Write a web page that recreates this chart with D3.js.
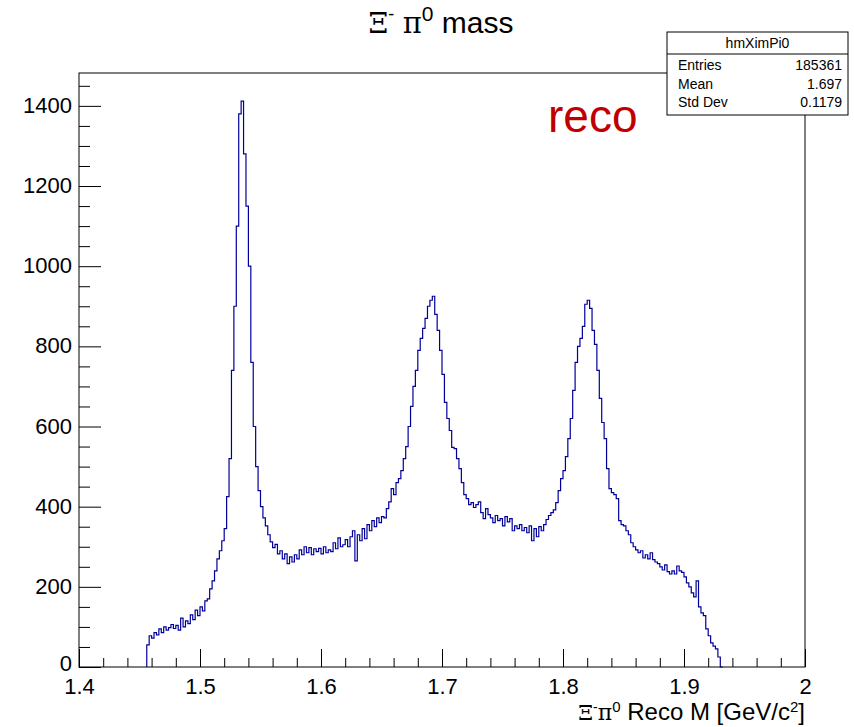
<!DOCTYPE html>
<html>
<head>
<meta charset="utf-8">
<script src="https://cdn.jsdelivr.net/npm/d3@7"></script>
<style>
  body { margin: 0; background: #fff; }
  svg { display: block; font-family: "Liberation Sans", Arial, sans-serif; }
</style>
</head>
<body>
<svg id="chart" width="854" height="727"></svg>
<script>
// histogram binning (GeV/c^2)
const binStart = 1.456;
const binWidth = 0.002;

// bin contents, one per bin starting at binStart
const counts = [
  55, 78, 72, 86, 80, 95, 86, 100, 92, 98,
  106, 96, 104, 92, 122, 100, 115, 108, 130, 118,
  142, 128, 150, 140, 165, 170, 195, 215, 240, 270,
  290, 315, 345, 425, 520, 740, 900, 1100, 1380, 1412,
  1280, 1150, 1000, 760, 600, 500, 440, 400, 372, 352,
  330, 312, 298, 306, 282, 290, 270, 282, 258, 275,
  262, 280, 270, 292, 280, 300, 285, 298, 280, 295,
  288, 296, 282, 300, 285, 292, 288, 310, 295, 322,
  300, 305, 318, 300, 325, 340, 265, 330, 315, 345,
  320, 355, 340, 365, 350, 372, 360, 375, 372, 395,
  412, 445, 430, 460, 470, 490, 520, 550, 600, 650,
  700, 740, 790, 820, 845, 870, 900, 915, 925, 880,
  840, 790, 730, 660, 620, 590, 548, 545, 520, 495,
  460, 430, 420, 405, 410, 398, 405, 412, 385, 370,
  395, 380, 372, 360, 378, 365, 370, 352, 375, 362,
  370, 340, 352, 345, 355, 340, 348, 335, 352, 315,
  345, 325, 350, 340, 355, 368, 378, 385, 392, 410,
  440, 470, 490, 525, 570, 620, 690, 760, 800, 820,
  850, 905, 915, 895, 840, 805, 740, 670, 610, 570,
  495, 445, 435, 430, 420, 365, 355, 352, 340, 330,
  310, 300, 292, 285, 290, 272, 280, 270, 285, 268,
  262, 258, 250, 242, 255, 238, 232, 240, 232, 252,
  240, 236, 225, 210, 200, 185, 175, 215, 150, 135,
  128, 95, 78, 60, 52, 45, 25, 0
];

// axis ticks
const xMajor = [1.4, 1.5, 1.6, 1.7, 1.8, 1.9, 2.0];
const xLabels = ["1.4", "1.5", "1.6", "1.7", "1.8", "1.9", "2"];
const yMajor = [0, 200, 400, 600, 800, 1000, 1200, 1400];

// stats box
const statsName = "hmXimPi0";
const statsRows = [["Entries", "185361"], ["Mean", "1.697"], ["Std Dev", "0.1179"]];

const svg = d3.select("#chart");
const frameL = 79, frameR = 805, frameT = 73, frameB = 667;

const x = d3.scaleLinear().domain([1.4, 2.0]).range([frameL, frameR]);
const y = d3.scaleLinear().domain([0, 1482]).range([frameB, frameT]);

// minor ticks
const xMinor = d3.range(0, 31).map(i => +(1.4 + i * 0.02).toFixed(3)).filter(v => !xMajor.some(m => Math.abs(m - v) < 1e-6));
const yMinor = d3.range(0, 30).map(i => i * 50).filter(v => v % 200 !== 0 && v <= 1482);

// ------- x axis -------
svg.append("g")
  .attr("transform", `translate(0,${frameB})`)
  .call(d3.axisBottom(x).tickValues(xMinor).tickSize(-9).tickFormat(""))
  .call(g => g.select(".domain").remove());

svg.append("g")
  .attr("transform", `translate(0,${frameB})`)
  .call(d3.axisBottom(x).tickValues(xMajor).tickSize(-18).tickPadding(11)
    .tickFormat((d, i) => xLabels[i]))
  .call(g => g.select(".domain").remove())
  .call(g => g.selectAll("text").attr("font-size", 22).attr("fill", "#000")
    .attr("font-family", "Liberation Sans, Arial, sans-serif"));

// ------- y axis -------
svg.append("g")
  .attr("transform", `translate(${frameL},0)`)
  .call(d3.axisLeft(y).tickValues(yMinor).tickSize(-11).tickFormat(""))
  .call(g => g.select(".domain").remove());

svg.append("g")
  .attr("transform", `translate(${frameL},0)`)
  .call(d3.axisLeft(y).tickValues(yMajor).tickSize(-22).tickPadding(7).tickFormat(d3.format("d")))
  .call(g => g.select(".domain").remove())
  .call(g => g.selectAll("text").attr("font-size", 22).attr("fill", "#000")
    .attr("dy", d => d === 0 ? "0.18em" : "0.3em")
    .attr("font-family", "Liberation Sans, Arial, sans-serif"));

svg.selectAll(".tick line").attr("stroke", "#000").attr("stroke-width", 1);

// ------- histogram -------
const pts = counts.map((c, i) => ({ e: binStart + i * binWidth, v: c }));
pts.unshift({ e: binStart, v: 0 });
pts.push({ e: binStart + counts.length * binWidth, v: 0 });

const line = d3.line()
  .x(d => x(d.e))
  .y(d => y(d.v))
  .curve(d3.curveStepAfter);

svg.append("path")
  .datum(pts)
  .attr("d", line)
  .attr("fill", "none")
  .attr("stroke", "#000099")
  .attr("stroke-width", 1.2);

// frame
svg.append("rect")
  .attr("x", frameL).attr("y", frameT)
  .attr("width", frameR - frameL).attr("height", frameB - frameT)
  .attr("fill", "none").attr("stroke", "#000").attr("stroke-width", 1);

// ------- title -------
const title = svg.append("text")
  .attr("x", 441).attr("y", 33)
  .attr("text-anchor", "middle")
  .attr("font-size", 30);
title.append("tspan").attr("font-family", "DejaVu Serif, serif").attr("font-size", 28).text("Ξ");
title.append("tspan").attr("dy", -13).attr("font-size", 18).text("-");
title.append("tspan").attr("dy", 13).text(" ");
title.append("tspan").attr("font-family", "DejaVu Serif, serif").attr("font-size", 29).text("π");
title.append("tspan").attr("dy", -12).attr("font-size", 21).text("0");
title.append("tspan").attr("dy", 12).text(" mass");

// ------- x axis title -------
const xt = svg.append("text")
  .attr("x", frameR).attr("y", 720)
  .attr("text-anchor", "end")
  .attr("font-size", 24);
xt.append("tspan").attr("font-family", "DejaVu Serif, serif").attr("font-size", 21).text("Ξ");
xt.append("tspan").attr("dy", -8).attr("font-size", 14).text("-");
xt.append("tspan").attr("dy", 8).attr("font-family", "DejaVu Serif, serif").attr("font-size", 22).text("π");
xt.append("tspan").attr("dy", -8).attr("font-size", 15).text("0");
xt.append("tspan").attr("dy", 8).text(" Reco M [GeV/c");
xt.append("tspan").attr("dy", -8).attr("font-size", 15).text("2");
xt.append("tspan").attr("dy", 8).text("]");

// ------- "reco" label -------
svg.append("text")
  .attr("x", 548).attr("y", 132)
  .attr("font-size", 46)
  .attr("fill", "#c00000")
  .text("reco");

// ------- stats box -------
const sb = { x: 667, y: 32, w: 181, h: 83, head: 22 };
svg.append("rect")
  .attr("x", sb.x).attr("y", sb.y).attr("width", sb.w).attr("height", sb.h)
  .attr("fill", "#fff").attr("stroke", "#000").attr("stroke-width", 1);
svg.append("line")
  .attr("x1", sb.x).attr("x2", sb.x + sb.w)
  .attr("y1", sb.y + sb.head).attr("y2", sb.y + sb.head)
  .attr("stroke", "#000");
svg.append("text")
  .attr("x", sb.x + sb.w / 2).attr("y", sb.y + 16)
  .attr("text-anchor", "middle").attr("font-size", 14)
  .text(statsName);
statsRows.forEach((r, i) => {
  const yy = 70 + i * 18.5;
  svg.append("text").attr("x", sb.x + 11).attr("y", yy).attr("font-size", 14).text(r[0]);
  svg.append("text").attr("x", sb.x + sb.w - 6).attr("y", yy).attr("text-anchor", "end")
    .attr("font-size", 14).text(r[1]);
});
</script>
</body>
</html>
